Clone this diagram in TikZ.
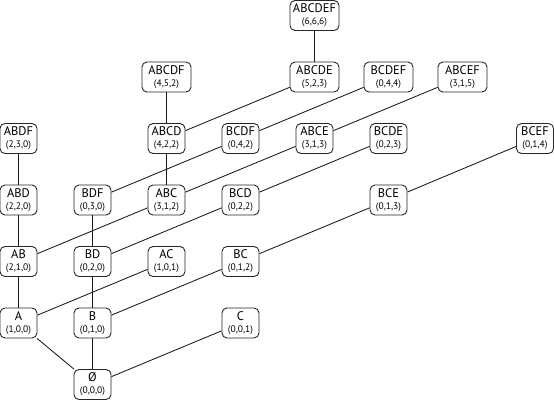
\documentclass[tikz,border=0pt]{standalone}
\usepackage{fontspec}
\setmainfont{PT Sans}
\begin{document}
\begin{tikzpicture}[x=1pt,y=-1pt,
  box/.style={draw=black!85, rounded corners=5pt, line width=0.9pt, minimum width=37pt, minimum height=30pt, inner sep=0pt, align=center, font=\fontsize{12.5}{12}\selectfont},
  wide/.style={minimum width=49pt},
  edge/.style={draw=black!90, line width=0.85pt}]
\useasboundingbox (0,0) rectangle (554,400);
\newcommand{\tup}[1]{{\fontsize{9.5}{9.5}\selectfont #1}}
\def\cx#1{18.5+74*#1}
\def\ry#1{15.5+61.5*#1}
% row 6
\node[box] (e) at ({\cx{1}},{\ry{6}}) {Ø\\\tup{(0,0,0)}};
% row 5
\node[box] (A) at ({\cx{0}},{\ry{5}}) {A\\\tup{(1,0,0)}};
\node[box] (B) at ({\cx{1}},{\ry{5}}) {B\\\tup{(0,1,0)}};
\node[box] (C) at ({\cx{3}},{\ry{5}}) {C\\\tup{(0,0,1)}};
% row 4
\node[box] (AB) at ({\cx{0}},{\ry{4}}) {AB\\\tup{(2,1,0)}};
\node[box] (BD) at ({\cx{1}},{\ry{4}}) {BD\\\tup{(0,2,0)}};
\node[box] (AC) at ({\cx{2}},{\ry{4}}) {AC\\\tup{(1,0,1)}};
\node[box] (BC) at ({\cx{3}},{\ry{4}}) {BC\\\tup{(0,1,2)}};
% row 3
\node[box] (ABD) at ({\cx{0}},{\ry{3}}) {ABD\\\tup{(2,2,0)}};
\node[box] (BDF) at ({\cx{1}},{\ry{3}}) {BDF\\\tup{(0,3,0)}};
\node[box] (ABC) at ({\cx{2}},{\ry{3}}) {ABC\\\tup{(3,1,2)}};
\node[box] (BCD) at ({\cx{3}},{\ry{3}}) {BCD\\\tup{(0,2,2)}};
\node[box] (BCE) at ({\cx{5}},{\ry{3}}) {BCE\\\tup{(0,1,3)}};
% row 2
\node[box] (ABDF) at ({\cx{0}},{\ry{2}}) {ABDF\\\tup{(2,3,0)}};
\node[box] (ABCD) at ({\cx{2}},{\ry{2}}) {ABCD\\\tup{(4,2,2)}};
\node[box] (BCDF) at ({\cx{3}},{\ry{2}}) {BCDF\\\tup{(0,4,2)}};
\node[box] (ABCE) at ({\cx{4}},{\ry{2}}) {ABCE\\\tup{(3,1,3)}};
\node[box] (BCDE) at ({\cx{5}},{\ry{2}}) {BCDE\\\tup{(0,2,3)}};
\node[box] (BCEF) at (535,{\ry{2}}) {BCEF\\\tup{(0,1,4)}};
% row 1
\node[box,wide] (ABCDF) at ({\cx{2}},{\ry{1}}) {ABCDF\\\tup{(4,5,2)}};
\node[box,wide] (ABCDE) at ({\cx{4}},{\ry{1}}) {ABCDE\\\tup{(5,2,3)}};
\node[box,wide] (BCDEF) at ({\cx{5}},{\ry{1}}) {BCDEF\\\tup{(0,4,4)}};
\node[box,wide] (ABCEF) at ({\cx{6}},{\ry{1}}) {ABCEF\\\tup{(3,1,5)}};
% row 0
\node[box,wide] (ABCDEF) at ({\cx{4}},{\ry{0}}) {ABCDEF\\\tup{(6,6,6)}};
% edges
\path[edge] (e) -- (A);
\path[edge] (e) -- (B);
\path[edge] (e) -- (C);
\path[edge] (A) -- (AB);
\path[edge] (A) -- (AC);
\path[edge] (B) -- (BD);
\path[edge] (B) -- (BC);
\path[edge] (AB) -- (ABD);
\path[edge] (AB) -- (ABC);
\path[edge] (BD) -- (BDF);
\path[edge] (BD) -- (BCD);
\path[edge] (BC) -- (BCE);
\path[edge] (ABD) -- (ABDF);
\path[edge] (BDF) -- (BCDF);
\path[edge] (ABC) -- (ABCD);
\path[edge] (ABC) -- (ABCE);
\path[edge] (BCD) -- (BCDE);
\path[edge] (BCE) -- (BCEF);
\path[edge] (ABCD) -- (ABCDF);
\path[edge] (ABCD) -- (ABCDE);
\path[edge] (BCDF) -- (BCDEF);
\path[edge] (ABCE) -- (ABCEF);
\path[edge] (ABCDE) -- (ABCDEF);
\end{tikzpicture}
\end{document}
